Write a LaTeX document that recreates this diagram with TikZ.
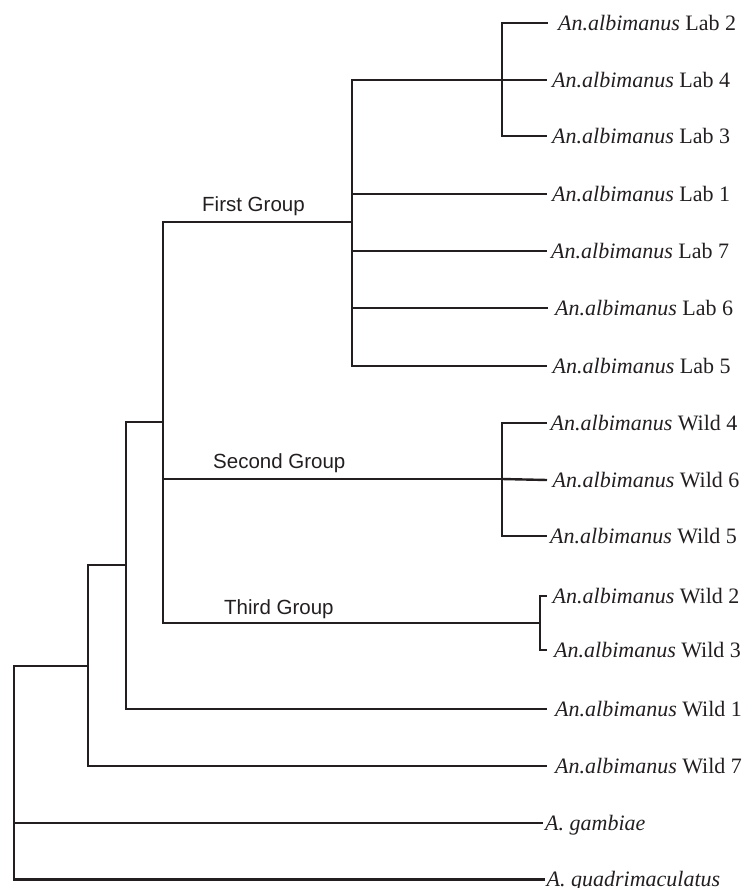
\documentclass[tikz,border=0pt]{standalone}
\usepackage{fontspec}
\setmainfont{Liberation Serif}
\newfontfamily\grpfont{Liberation Sans}
\definecolor{ink}{HTML}{231F20}
\tikzset{
  branch/.style={draw=ink, line width=2.4pt},
  leaf/.style={anchor=base west, inner sep=0pt, font=\fontsize{22}{26}\selectfont, text=ink},
  grp/.style={anchor=base west, inner sep=0pt, font=\grpfont\fontsize{20.5}{24}\selectfont, text=ink}
}
\newcommand{\anal}{\textit{An.albimanus}}
\begin{document}
\begin{tikzpicture}[x=1pt, y=-1pt]
\useasboundingbox (0,0) rectangle (743,888);
% internal nodes
\coordinate (c1) at (502,80);
\coordinate (c2) at (352,222);
\coordinate (c3) at (502,479);
\coordinate (c4) at (540,623);
\coordinate (c5) at (163,422);
\coordinate (c6) at (126,565);
\coordinate (c7) at (88,666);
\coordinate (root) at (14,823);
% leaf tips
\coordinate (tL2) at (548,23);
\coordinate (tL4) at (547,80);
\coordinate (tL3) at (547,136);
\coordinate (tL1) at (547,194);
\coordinate (tL7) at (547,251);
\coordinate (tL6) at (548,308);
\coordinate (tL5) at (547,366);
\coordinate (tW4) at (547,423);
\coordinate (tW6) at (547,480);
\coordinate (tW5) at (547,536);
\coordinate (tW2) at (547,596);
\coordinate (tW3) at (547,650);
\coordinate (tW1) at (547,709);
\coordinate (tW7) at (547,766);
\coordinate (tG) at (543,823);
\coordinate (tQ) at (545,879.5);
% labels
\node[leaf] (L2) at (558,30.3) {\anal{} Lab 2};
\node[leaf] (L4) at (552,87.3) {\anal{} Lab 4};
\node[leaf] (L3) at (552,143.3) {\anal{} Lab 3};
\node[leaf] (L1) at (552,201.3) {\anal{} Lab 1};
\node[leaf] (L7) at (551,258.3) {\anal{} Lab 7};
\node[leaf] (L6) at (555,315.3) {\anal{} Lab 6};
\node[leaf] (L5) at (552.5,373.3) {\anal{} Lab 5};
\node[leaf] (W4) at (550.5,430.3) {\anal{} Wild 4};
\node[leaf] (W6) at (552.5,487.3) {\anal{} Wild 6};
\node[leaf] (W5) at (550,543.3) {\anal{} Wild 5};
\node[leaf] (W2) at (552.5,603.3) {\anal{} Wild 2};
\node[leaf] (W3) at (554,657.3) {\anal{} Wild 3};
\node[leaf] (W1) at (555,716.3) {\anal{} Wild 1};
\node[leaf] (W7) at (555,773.3) {\anal{} Wild 7};
\node[leaf] (G) at (545,830.3) {\textit{A. gambiae}};
\node[leaf] (Q) at (546.5,886) {\textit{A. quadrimaculatus}};
\node[grp] (g1) at (202,211.7) {First Group};
\node[grp] (g2) at (213,468.3) {Second Group};
\node[grp] (g3) at (224,614.5) {Third Group};
% branches
\draw[branch] (c1) |- (tL2);
\draw[branch] (c1) -- (tL4);
\draw[branch] (c1) |- (tL3);
\draw[branch] (c2) |- (c1);
\draw[branch] (c2) |- (tL1);
\draw[branch] (c2) |- (tL7);
\draw[branch] (c2) |- (tL6);
\draw[branch] (c2) |- (tL5);
\draw[branch] (c3) |- (tW4);
\draw[branch] (c3) -- (tW6);
\draw[branch] (c3) |- (tW5);
\draw[branch] (c4) |- (tW2);
\draw[branch] (c4) |- (tW3);
\draw[branch] (c5) |- (c2);
\draw[branch] (c5) |- (c3);
\draw[branch] (c5) |- (c4);
\draw[branch] (c6) |- (c5);
\draw[branch] (c6) |- (tW1);
\draw[branch] (c7) |- (c6);
\draw[branch] (c7) |- (tW7);
\draw[branch] (root) |- (c7);
\draw[branch] (root) -- (tG);
\draw[branch] (root) |- (tQ);
\end{tikzpicture}
\end{document}
